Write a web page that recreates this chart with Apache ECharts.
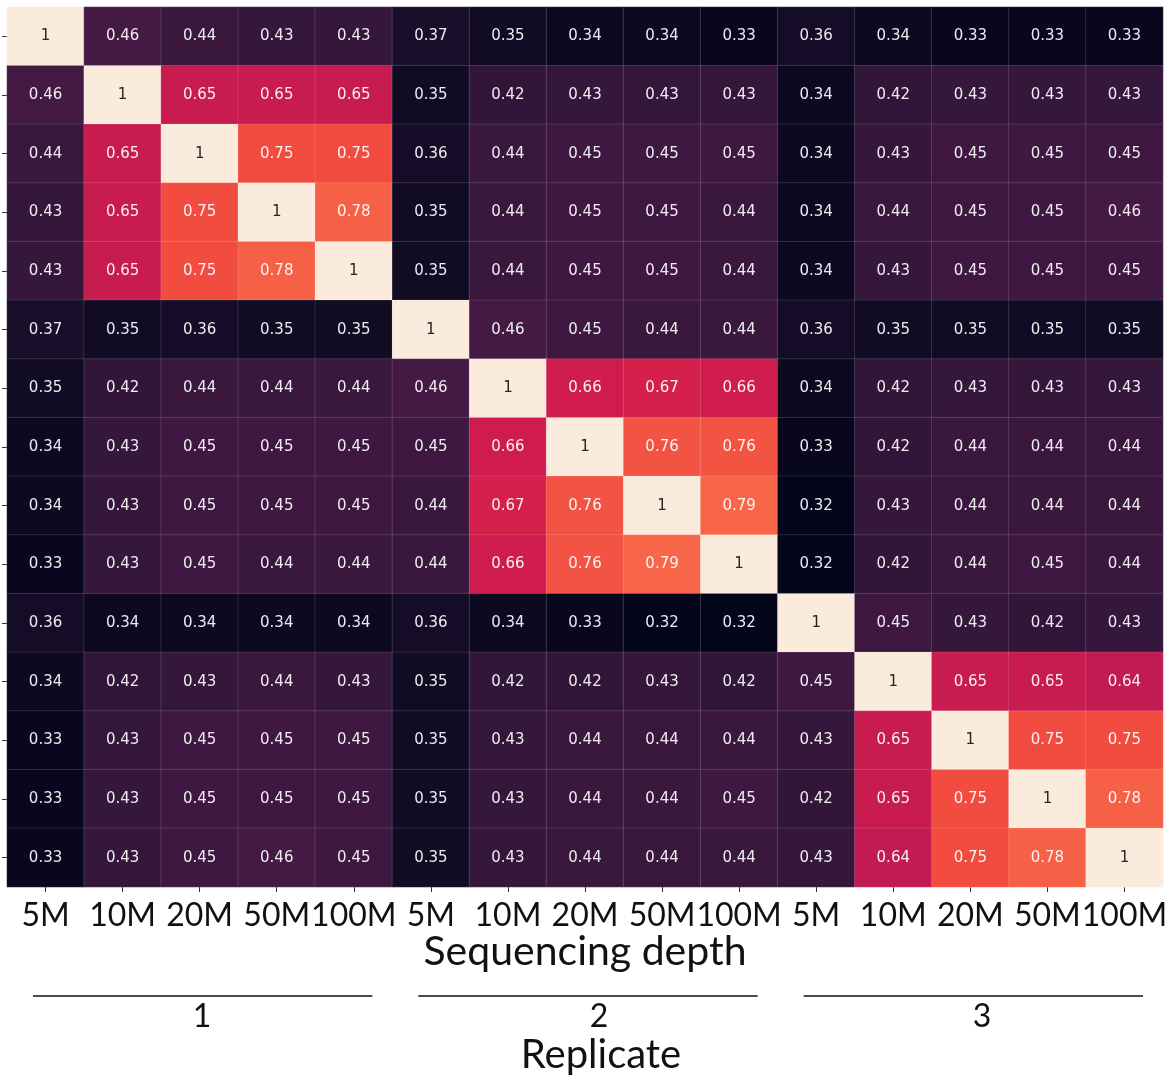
<!DOCTYPE html>
<html>
<head>
<meta charset="utf-8">
<script src="https://cdn.jsdelivr.net/npm/echarts@6/dist/echarts.min.js"></script>
<style>
  html, body {margin: 0; padding: 0; background: #fff;}
  #chart {width: 1175px; height: 1081px;}
</style>
</head>
<body>
<div id="chart"></div>
<script>
// sequencing depth per replicate, 3 replicates x 5 depths
var depths = ['5M', '10M', '20M', '50M', '100M'];
var replicates = ['1', '2', '3'];
var xLabels = [].concat(depths, depths, depths);
var yLabels = xLabels.map(function (d, i) { return i + ''; });

var matrix = [
  [1, .46, .44, .43, .43, .37, .35, .34, .34, .33, .36, .34, .33, .33, .33],
  [.46, 1, .65, .65, .65, .35, .42, .43, .43, .43, .34, .42, .43, .43, .43],
  [.44, .65, 1, .75, .75, .36, .44, .45, .45, .45, .34, .43, .45, .45, .45],
  [.43, .65, .75, 1, .78, .35, .44, .45, .45, .44, .34, .44, .45, .45, .46],
  [.43, .65, .75, .78, 1, .35, .44, .45, .45, .44, .34, .43, .45, .45, .45],
  [.37, .35, .36, .35, .35, 1, .46, .45, .44, .44, .36, .35, .35, .35, .35],
  [.35, .42, .44, .44, .44, .46, 1, .66, .67, .66, .34, .42, .43, .43, .43],
  [.34, .43, .45, .45, .45, .45, .66, 1, .76, .76, .33, .42, .44, .44, .44],
  [.34, .43, .45, .45, .45, .44, .67, .76, 1, .79, .32, .43, .44, .44, .44],
  [.33, .43, .45, .44, .44, .44, .66, .76, .79, 1, .32, .42, .44, .45, .44],
  [.36, .34, .34, .34, .34, .36, .34, .33, .32, .32, 1, .45, .43, .42, .43],
  [.34, .42, .43, .44, .43, .35, .42, .42, .43, .42, .45, 1, .65, .65, .64],
  [.33, .43, .45, .45, .45, .35, .43, .44, .44, .44, .43, .65, 1, .75, .75],
  [.33, .43, .45, .45, .45, .35, .43, .44, .44, .45, .42, .65, .75, 1, .78],
  [.33, .43, .45, .46, .45, .35, .43, .44, .44, .44, .43, .64, .75, .78, 1]
];

// seaborn "rocket"-like ramp
var rocket = ['#03051a', '#221331', '#411942', '#701f57', '#a11a5b', '#cf1b4e',
  '#ee3e3b', '#f96a4a', '#f59b78', '#f7c4a6', '#faebdd'];

// where the group labels sit under each replicate block
var replicateLabelX = [202, 599, 982];

var G = {left: 7, top: 7, width: 1156, height: 880};

var data = [];
matrix.forEach(function (row, r) {
  row.forEach(function (v, c) {
    data.push({
      value: [c, r, v],
      label: {color: v > 0.9 ? '#262626' : 'rgba(255,255,255,0.92)'}
    });
  });
});

var myChart = echarts.init(document.getElementById('chart'));

var cellW = G.width / xLabels.length;
var graphics = [];
replicates.forEach(function (name, i) {
  var x0 = G.left + i * 5 * cellW;
  graphics.push({
    type: 'line',
    shape: {x1: x0 + 26, y1: 996, x2: x0 + 5 * cellW - 20, y2: 996},
    style: {stroke: '#111', lineWidth: 1.3}
  });
  graphics.push({
    type: 'text',
    x: replicateLabelX[i], y: 1017,
    style: {text: name, font: '32px Lato', fill: '#111', align: 'center', verticalAlign: 'middle'}
  });
});
graphics.push({
  type: 'text',
  x: 601, y: 1055,
  style: {text: 'Replicate', font: '40px Lato', fill: '#111', align: 'center', verticalAlign: 'middle'}
});

myChart.setOption({
  animation: false,
  grid: G,
  xAxis: {
    type: 'category',
    data: xLabels,
    name: 'Sequencing depth',
    nameLocation: 'middle',
    nameGap: 44,
    nameMoveOverlap: false,
    nameTextStyle: {fontFamily: 'Lato', fontSize: 41, color: '#111'},
    axisLine: {show: false},
    axisTick: {show: true, alignWithLabel: true, length: 5, lineStyle: {color: '#333'}},
    axisLabel: {fontFamily: 'Lato', fontSize: 32, color: '#111', margin: 13, interval: 0},
    splitLine: {show: false}
  },
  yAxis: {
    type: 'category',
    data: yLabels,
    inverse: true,
    axisLine: {show: false},
    axisTick: {show: true, alignWithLabel: true, length: 5, lineStyle: {color: '#333'}},
    axisLabel: {show: false},
    splitLine: {show: false}
  },
  visualMap: {
    show: false,
    type: 'continuous',
    min: 0.32,
    max: 1,
    dimension: 2,
    inRange: {color: rocket}
  },
  series: [{
    type: 'heatmap',
    data: data,
    itemStyle: {borderColor: 'rgba(255,255,255,0.22)', borderWidth: 0.6},
    label: {
      show: true,
      fontFamily: 'DejaVu Sans',
      fontSize: 15,
      formatter: function (p) {
        var v = p.value[2];
        return v === 1 ? '1' : v.toFixed(2);
      }
    },
    emphasis: {disabled: true}
  }],
  graphic: graphics
});
</script>
</body>
</html>
